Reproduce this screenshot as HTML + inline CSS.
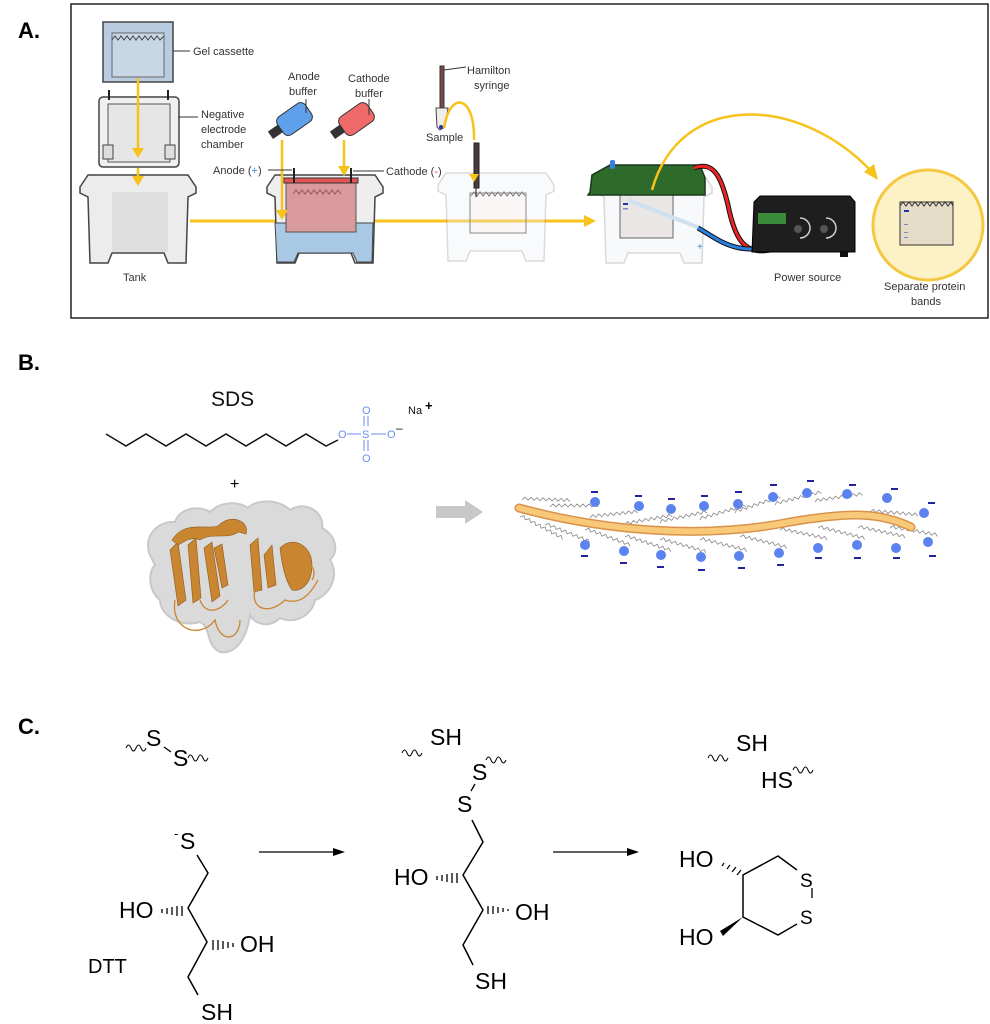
<!DOCTYPE html>
<html><head><meta charset="utf-8"><style>
html,body{margin:0;padding:0;background:#fff;}
svg{display:block;}
text{font-family:"Liberation Sans",sans-serif;}
</style></head><body>
<svg width="990" height="1024" viewBox="0 0 990 1024" xmlns="http://www.w3.org/2000/svg">
<defs>
<path id="tank" d="M0,12 L8,0 L108,0 L116,12 L116,18 L108,22 L106,88 L88,88 L84,78 L32,78 L28,88 L10,88 L8,22 L0,18 Z"/>
<path id="zz" d="M0,0 l3,-3 l3,3 l3,-3 l3,3 l3,-3 l3,3 l3,-3 l3,3 l3,-3 l3,3 l3,-3 l3,3 l3,-3 l3,3 l3,-3 l3,3" fill="none" stroke="#888" stroke-width="0.8"/>
<path id="wv" d="M0,4 q2.5,-6 5,0 q2.5,6 5,0 q2.5,-6 5,0 q2.5,6 5,0" fill="none" stroke="#000" stroke-width="1"/>
</defs>

<text x="18" y="38" font-size="22" font-weight="bold">A.</text>
<text x="18" y="370" font-size="22" font-weight="bold">B.</text>
<text x="18" y="734" font-size="22" font-weight="bold">C.</text>

<rect x="71" y="4" width="917" height="314" fill="#fff" stroke="#222" stroke-width="1.5"/>

<line x1="190" y1="221" x2="592" y2="221" stroke="#f7c21a" stroke-width="3"/>
<polygon points="584,215 596,221 584,227" fill="#f7c21a"/>

<use href="#tank" x="80" y="175" fill="#ececec" stroke="#444" stroke-width="1.5"/>
<rect x="112" y="192" width="56" height="60" fill="#dedede"/>
<rect x="99" y="97" width="80" height="70" rx="4" fill="#f0f0f0" stroke="#444" stroke-width="1.5"/>
<rect x="108" y="104" width="62" height="58" fill="#e6e6e6" stroke="#555"/>
<rect x="103" y="145" width="10" height="14" fill="#ddd" stroke="#444"/>
<rect x="165" y="145" width="10" height="14" fill="#ddd" stroke="#444"/>
<line x1="109" y1="90" x2="109" y2="100" stroke="#222" stroke-width="2"/>
<line x1="168" y1="90" x2="168" y2="100" stroke="#222" stroke-width="2"/>
<rect x="103" y="22" width="70" height="60" fill="#b8cbe0" stroke="#444" stroke-width="1.5"/>
<rect x="112" y="33" width="52" height="44" fill="#c8d7e6" stroke="#666"/>
<path d="M112,40 l3,-4 l3,4 l3,-4 l3,4 l3,-4 l3,4 l3,-4 l3,4 l3,-4 l3,4 l3,-4 l3,4 l3,-4 l3,4 l3,-4 l3,4 l4,-4" fill="none" stroke="#444"/>
<line x1="138" y1="78" x2="138" y2="150" stroke="#f7c21a" stroke-width="2.5"/>
<polygon points="132,148 138,158 144,148" fill="#f7c21a"/>
<line x1="138" y1="168" x2="138" y2="180" stroke="#f7c21a" stroke-width="2.5"/>
<polygon points="132,176 138,186 144,176" fill="#f7c21a"/>
<line x1="173" y1="51" x2="190" y2="51" stroke="#333"/>
<text x="193" y="55" font-size="11" fill="#333">Gel cassette</text>
<line x1="178" y1="117" x2="198" y2="117" stroke="#333"/>
<text x="201" y="118" font-size="11" fill="#333">Negative</text>
<text x="201" y="133" font-size="11" fill="#333">electrode</text>
<text x="201" y="148" font-size="11" fill="#333">chamber</text>
<text x="123" y="281" font-size="11" fill="#333">Tank</text>

<use href="#tank" x="267" y="175" fill="#eee" stroke="#444" stroke-width="1.5"/>
<path d="M275,223 L373,223 L372,262 L357,262 L353,253 L298,253 L294,262 L277,262 Z" fill="#a8c8e4" stroke="#444"/>
<rect x="286" y="180" width="70" height="52" fill="#d89a9a" stroke="#555"/>
<rect x="284" y="178" width="74" height="5" fill="#e65555" stroke="#333"/>
<path d="M293,194 l3,-4 l3,4 l3,-4 l3,4 l3,-4 l3,4 l3,-4 l3,4 l3,-4 l3,4 l3,-4 l3,4 l3,-4 l3,4 l3,-4 l3,4" fill="none" stroke="#955"/>
<line x1="294" y1="168" x2="294" y2="183" stroke="#222" stroke-width="2"/>
<line x1="351" y1="168" x2="351" y2="183" stroke="#222" stroke-width="2"/>
<g transform="translate(280,128) rotate(-35)">
<rect x="0" y="-10" width="34" height="22" rx="6" fill="#5ea0ea" stroke="#333"/>
<rect x="-12" y="-4" width="12" height="9" fill="#333"/>
</g>
<g transform="translate(342,128) rotate(-35)">
<rect x="0" y="-10" width="34" height="22" rx="6" fill="#ee6a6a" stroke="#333"/>
<rect x="-12" y="-4" width="12" height="9" fill="#333"/>
</g>
<line x1="282" y1="140" x2="282" y2="212" stroke="#f7c21a" stroke-width="2.5"/>
<polygon points="276,210 282,220 288,210" fill="#f7c21a"/>
<line x1="344" y1="140" x2="344" y2="168" stroke="#f7c21a" stroke-width="2.5"/>
<polygon points="338,166 344,176 350,166" fill="#f7c21a"/>
<line x1="306" y1="99" x2="306" y2="113" stroke="#333"/>
<line x1="369" y1="99" x2="369" y2="115" stroke="#333"/>
<text x="288" y="80" font-size="11" fill="#333">Anode</text>
<text x="289" y="95" font-size="11" fill="#333">buffer</text>
<text x="348" y="82" font-size="11" fill="#333">Cathode</text>
<text x="355" y="97" font-size="11" fill="#333">buffer</text>
<text x="213" y="174" font-size="11" fill="#333">Anode (<tspan fill="#3a8ee0">+</tspan>)</text>
<line x1="268" y1="170" x2="292" y2="170" stroke="#333"/>
<line x1="353" y1="171" x2="384" y2="171" stroke="#333"/>
<text x="386" y="175" font-size="11" fill="#333">Cathode (<tspan fill="#e04444">-</tspan>)</text>

<g opacity="0.35">
<use href="#tank" x="438" y="173" fill="#eef2f6" stroke="#999" stroke-width="1.5"/>
<rect x="470" y="193" width="56" height="40" fill="#f4e8e8" stroke="#555"/>
</g>
<path d="M471,196 l3,-4 l3,4 l3,-4 l3,4 l3,-4 l3,4 l3,-4 l3,4 l3,-4 l3,4 l3,-4 l3,4 l3,-4 l3,4 l3,-4 l3,4 l3,-4 l3,4" fill="none" stroke="#777"/>
<rect x="470" y="193" width="56" height="40" fill="none" stroke="#888"/>
<rect x="474" y="143" width="5" height="45" fill="#4a3a3a" stroke="#222"/>
<line x1="476" y1="188" x2="476" y2="197" stroke="#222"/>
<rect x="440" y="66" width="4" height="44" fill="#7a4a4a" stroke="#333"/>
<path d="M436,108 L448,108 L445,127 L440,130 L437,127 Z" fill="#eee" stroke="#444"/>
<circle cx="441" cy="127" r="2" fill="#2233aa"/>
<path d="M444,128 C450,90 475,95 474,140" fill="none" stroke="#f7c21a" stroke-width="2.5"/>
<polygon points="469,174 474,182 479,174" fill="#f7c21a"/>
<line x1="444" y1="70" x2="466" y2="67" stroke="#333"/>
<text x="467" y="74" font-size="11" fill="#333">Hamilton</text>
<text x="474" y="89" font-size="11" fill="#333">syringe</text>
<text x="426" y="141" font-size="11" fill="#333">Sample</text>

<g opacity="0.45"><use href="#tank" x="596" y="175" fill="#eef2f6" stroke="#aaa" stroke-width="1.5"/></g>
<rect x="620" y="193" width="53" height="45" fill="#ebe6e6" stroke="#666"/>
<rect x="623" y="203" width="5" height="2" fill="#2233aa"/>
<rect x="623" y="208" width="5" height="1.5" fill="#7788cc"/>
<path d="M628,200 L700,228" stroke="#cfe0f0" stroke-width="4"/>
<path d="M590,192 L592,175 L610,165 L700,165 L705,178 L705,195 L588,195 Z" fill="#2e6b2a" stroke="#1a3a1a" stroke-width="1.5"/>
<rect x="610" y="160" width="5" height="9" rx="2" fill="#3a7ee0"/>
<path d="M694,168 C715,160 722,180 728,205 C735,240 745,255 770,250" fill="none" stroke="#111" stroke-width="5"/>
<path d="M694,168 C715,160 722,180 728,205 C735,240 745,255 770,250" fill="none" stroke="#e22" stroke-width="3"/>
<path d="M698,228 C720,240 735,258 785,244" fill="none" stroke="#111" stroke-width="5"/>
<path d="M698,228 C720,240 735,258 785,244" fill="none" stroke="#2a7ee0" stroke-width="3"/>
<text x="708" y="172" font-size="9" fill="#e44">-</text>
<text x="697" y="250" font-size="10" fill="#3a8ee0">+</text>
<path d="M652,190 C680,90 800,95 872,172" fill="none" stroke="#f7c21a" stroke-width="2.5"/>
<polygon points="864,172 878,180 874,164" fill="#f7c21a"/>
<path d="M754,202 L760,196 L850,196 L855,202 L855,252 L752,252 Z" fill="#1e1e1e" stroke="#000"/>
<rect x="758" y="213" width="28" height="11" fill="#3a8a3a"/>
<circle cx="798" cy="229" r="4" fill="#555"/>
<circle cx="824" cy="229" r="4" fill="#555"/>
<path d="M800,218 a10,10 0 0 1 0,20" fill="none" stroke="#ccc" stroke-width="1.5"/>
<path d="M826,218 a10,10 0 0 1 0,20" fill="none" stroke="#ccc" stroke-width="1.5"/>
<rect x="840" y="252" width="8" height="5" fill="#111"/>
<text x="774" y="281" font-size="11" fill="#333">Power source</text>
<circle cx="928" cy="225" r="55" fill="#fdf1c6" stroke="#f5c842" stroke-width="3"/>
<rect x="900" y="202" width="53" height="43" fill="#e6ddc8" stroke="#333"/>
<path d="M900,206 l3,-4 l3,4 l3,-4 l3,4 l3,-4 l3,4 l3,-4 l3,4 l3,-4 l3,4 l3,-4 l3,4 l3,-4 l3,4 l3,-4 l3,4 l3,-4 l2,4" fill="none" stroke="#333"/>
<rect x="904" y="210" width="5" height="2" fill="#2233aa"/>
<rect x="904" y="224" width="4" height="1" fill="#7788cc"/>
<rect x="904" y="232" width="4" height="1" fill="#7788cc"/>
<rect x="904" y="237" width="4" height="1" fill="#7788cc"/>
<text x="884" y="290" font-size="11" fill="#333">Separate protein</text>
<text x="911" y="305" font-size="11" fill="#333">bands</text>

<!-- Panel B -->
<text x="211" y="406" font-size="21" fill="#111">SDS</text>
<polyline points="106,434 126,446 146,434 166,446 186,434 206,446 226,434 246,446 266,434 286,446 306,434 326,446 338,440" fill="none" stroke="#111" stroke-width="1.5"/>
<g fill="#6a8ef0" font-size="11">
<text x="338" y="438">O</text><text x="362" y="438">S</text><text x="387" y="438">O</text>
<text x="362" y="414">O</text><text x="362" y="462">O</text>
</g>
<g stroke="#6a8ef0" stroke-width="1">
<line x1="347" y1="434" x2="361" y2="434"/><line x1="371" y1="434" x2="386" y2="434"/>
<line x1="364" y1="416" x2="364" y2="426"/><line x1="368" y1="416" x2="368" y2="426"/>
<line x1="364" y1="440" x2="364" y2="451"/><line x1="368" y1="440" x2="368" y2="451"/>
</g>
<text x="396" y="432" font-size="12" fill="#111">–</text>
<text x="408" y="414" font-size="11" fill="#111">Na</text><text x="425" y="410" font-size="13" font-weight="bold">+</text>
<text x="230" y="489" font-size="16">+</text>
<!-- protein -->
<path d="M150,555 C142,535 160,520 175,522 C180,508 198,505 210,512 C222,500 240,502 248,508 C258,498 280,500 290,510 C305,500 325,512 322,528 C335,535 340,550 330,560 C340,575 330,595 315,600 C312,615 295,625 280,618 C270,628 255,625 250,615 C248,630 240,655 220,652 C205,645 212,628 200,622 C180,628 160,615 160,600 C148,590 148,572 155,565 Z" fill="#dadada" stroke="#c8c8c8" stroke-width="2"/>
<g fill="#c98530" stroke="#8a5a20" stroke-width="0.6">
<path d="M170,550 L178,542 L186,600 L178,606 Z"/>
<path d="M188,545 L196,538 L201,598 L193,603 Z"/>
<path d="M204,548 L212,542 L220,596 L212,602 Z"/>
<path d="M214,548 L222,544 L228,585 L222,588 Z"/>
<path d="M172,540 C185,520 205,530 218,526 C232,512 250,522 246,534 L238,532 C228,540 212,532 200,540 C190,535 180,545 178,545 Z"/>
<path d="M250,545 L258,538 L262,590 L254,592 Z"/>
<path d="M264,555 L272,545 L276,585 L268,588 Z"/>
<path d="M280,548 C292,535 312,545 312,565 C312,585 300,592 292,590 C285,580 282,565 280,548 Z"/>
</g>
<g fill="none" stroke="#c98530" stroke-width="1.3">
<path d="M175,600 C170,630 200,640 215,620 C220,645 240,640 240,620"/>
<path d="M255,590 C250,610 270,615 285,600 C300,605 310,595 318,580"/>
<path d="M200,600 C205,615 220,612 228,600"/>
<path d="M300,565 C310,560 318,570 312,580"/>
</g>
<polygon points="436,506 465,506 465,500 483,512 465,524 465,518 436,518" fill="#c8c8c8"/>

<g>
<use href="#zz" transform="translate(522,500) rotate(2)"/>
<use href="#zz" transform="translate(550,507)"/>
<use href="#zz" transform="translate(590,518) rotate(-6)"/>
<use href="#zz" transform="translate(625,525) rotate(-10)"/>
<use href="#zz" transform="translate(660,523) rotate(-12)"/>
<use href="#zz" transform="translate(700,520) rotate(-16)"/>
<use href="#zz" transform="translate(735,513) rotate(-18)"/>
<use href="#zz" transform="translate(775,505) rotate(-14)"/>
<use href="#zz" transform="translate(815,502) rotate(-8)"/>
<use href="#zz" transform="translate(870,512) rotate(5)"/>
<use href="#zz" transform="translate(520,517) rotate(28)"/>
<use href="#zz" transform="translate(545,525) rotate(22)"/>
<use href="#zz" transform="translate(585,530) rotate(20)"/>
<use href="#zz" transform="translate(625,537) rotate(18)"/>
<use href="#zz" transform="translate(660,540) rotate(16)"/>
<use href="#zz" transform="translate(700,540) rotate(14)"/>
<use href="#zz" transform="translate(740,537) rotate(14)"/>
<use href="#zz" transform="translate(780,530) rotate(12)"/>
<use href="#zz" transform="translate(818,528) rotate(14)"/>
<use href="#zz" transform="translate(858,528) rotate(12)"/>
<use href="#zz" transform="translate(890,528) rotate(10)"/>
</g>
<path d="M519,508 C600,530 700,540 790,522 C850,512 880,512 911,527" fill="none" stroke="#d9924a" stroke-width="9" stroke-linecap="round"/>
<path d="M519,508 C600,530 700,540 790,522 C850,512 880,512 911,527" fill="none" stroke="#f7c978" stroke-width="6" stroke-linecap="round"/>
<g fill="#5b82ee">
<circle cx="595" cy="502" r="5"/><circle cx="639" cy="506" r="5"/><circle cx="671" cy="509" r="5"/><circle cx="704" cy="506" r="5"/><circle cx="738" cy="504" r="5"/><circle cx="773" cy="497" r="5"/><circle cx="807" cy="493" r="5"/><circle cx="847" cy="494" r="5"/><circle cx="887" cy="498" r="5"/><circle cx="924" cy="513" r="5"/>
<circle cx="585" cy="545" r="5"/><circle cx="624" cy="551" r="5"/><circle cx="661" cy="555" r="5"/><circle cx="701" cy="557" r="5"/><circle cx="739" cy="556" r="5"/><circle cx="779" cy="553" r="5"/><circle cx="818" cy="548" r="5"/><circle cx="857" cy="545" r="5"/><circle cx="896" cy="548" r="5"/><circle cx="928" cy="542" r="5"/>
</g>
<g fill="#22229a">
<rect x="591" y="491" width="7" height="2"/><rect x="635" y="495" width="7" height="2"/><rect x="668" y="498" width="7" height="2"/><rect x="701" y="495" width="7" height="2"/><rect x="735" y="491" width="7" height="2"/><rect x="770" y="484" width="7" height="2"/><rect x="807" y="480" width="7" height="2"/><rect x="849" y="484" width="7" height="2"/><rect x="891" y="488" width="7" height="2"/><rect x="928" y="502" width="7" height="2"/>
<rect x="581" y="555" width="7" height="2"/><rect x="620" y="562" width="7" height="2"/><rect x="657" y="566" width="7" height="2"/><rect x="698" y="569" width="7" height="2"/><rect x="738" y="567" width="7" height="2"/><rect x="777" y="564" width="7" height="2"/><rect x="815" y="557" width="7" height="2"/><rect x="854" y="557" width="7" height="2"/><rect x="893" y="557" width="7" height="2"/><rect x="929" y="555" width="7" height="2"/>
</g>

<!-- Panel C -->
<g font-size="23" fill="#000">
<use href="#wv" x="126" y="744"/>
<text x="146" y="746">S</text>
<line x1="164" y1="747" x2="171" y2="752" stroke="#000" stroke-width="1.3"/>
<text x="173" y="766">S</text>
<use href="#wv" x="188" y="754"/>
<text x="180" y="849">S</text><text x="174" y="838" font-size="13">-</text>
<polyline points="197,855 208,873 188,908 207,942 188,977 198,995" fill="none" stroke="#000" stroke-width="1.5"/>
<text x="119" y="918">HO</text>
<g stroke="#000" stroke-width="1.3"><line x1="162" y1="909" x2="162" y2="913"/><line x1="167" y1="908" x2="167" y2="914"/><line x1="172" y1="907" x2="172" y2="915"/><line x1="177" y1="906" x2="177" y2="916"/><line x1="182" y1="906" x2="182" y2="916"/></g>
<text x="240" y="952">OH</text>
<g stroke="#000" stroke-width="1.3"><line x1="213" y1="940" x2="213" y2="950"/><line x1="218" y1="940" x2="218" y2="950"/><line x1="223" y1="941" x2="223" y2="949"/><line x1="228" y1="942" x2="228" y2="948"/><line x1="233" y1="943" x2="233" y2="947"/></g>
<text x="201" y="1020">SH</text>
<text x="88" y="973" font-size="20">DTT</text>
<line x1="259" y1="852" x2="336" y2="852" stroke="#000" stroke-width="1.3"/>
<polygon points="333,848 345,852 333,856" fill="#000"/>
<line x1="553" y1="852" x2="630" y2="852" stroke="#000" stroke-width="1.3"/>
<polygon points="627,848 639,852 627,856" fill="#000"/>
<use href="#wv" x="402" y="749"/>
<text x="430" y="745">SH</text>
<text x="472" y="780">S</text>
<use href="#wv" x="486" y="756"/>
<line x1="475" y1="784" x2="471" y2="791" stroke="#000" stroke-width="1.3"/>
<text x="457" y="812">S</text>
<polyline points="472,820 483,842 463,875 483,910 463,945 473,965" fill="none" stroke="#000" stroke-width="1.5"/>
<text x="394" y="885">HO</text>
<g stroke="#000" stroke-width="1.3"><line x1="437" y1="876" x2="437" y2="880"/><line x1="442" y1="875" x2="442" y2="881"/><line x1="447" y1="874" x2="447" y2="882"/><line x1="452" y1="873" x2="452" y2="883"/><line x1="457" y1="873" x2="457" y2="883"/></g>
<text x="515" y="920">OH</text>
<g stroke="#000" stroke-width="1.3"><line x1="488" y1="906" x2="488" y2="914"/><line x1="493" y1="906" x2="493" y2="914"/><line x1="498" y1="907" x2="498" y2="913"/><line x1="503" y1="908" x2="503" y2="912"/><line x1="508" y1="909" x2="508" y2="911"/></g>
<text x="475" y="989">SH</text>
<use href="#wv" x="708" y="754"/>
<text x="736" y="751">SH</text>
<text x="761" y="788">HS</text>
<use href="#wv" x="793" y="766"/>
<polyline points="797,870 778,856 743,875 743,917 778,935 797,924" fill="none" stroke="#000" stroke-width="1.5"/>
<line x1="812" y1="888" x2="812" y2="898" stroke="#000" stroke-width="1.3"/>
<text x="800" y="887" font-size="19">S</text>
<text x="800" y="924" font-size="19">S</text>
<text x="679" y="867">HO</text>
<g stroke="#000" stroke-width="1.2"><line x1="722" y1="866" x2="724" y2="863"/><line x1="727" y1="869" x2="730" y2="865"/><line x1="732" y1="872" x2="736" y2="867"/><line x1="737" y1="875" x2="741" y2="870"/></g>
<text x="679" y="945">HO</text>
<polygon points="743,917 720,931 723,936" fill="#000"/>
</g>
</svg>
</body></html>
